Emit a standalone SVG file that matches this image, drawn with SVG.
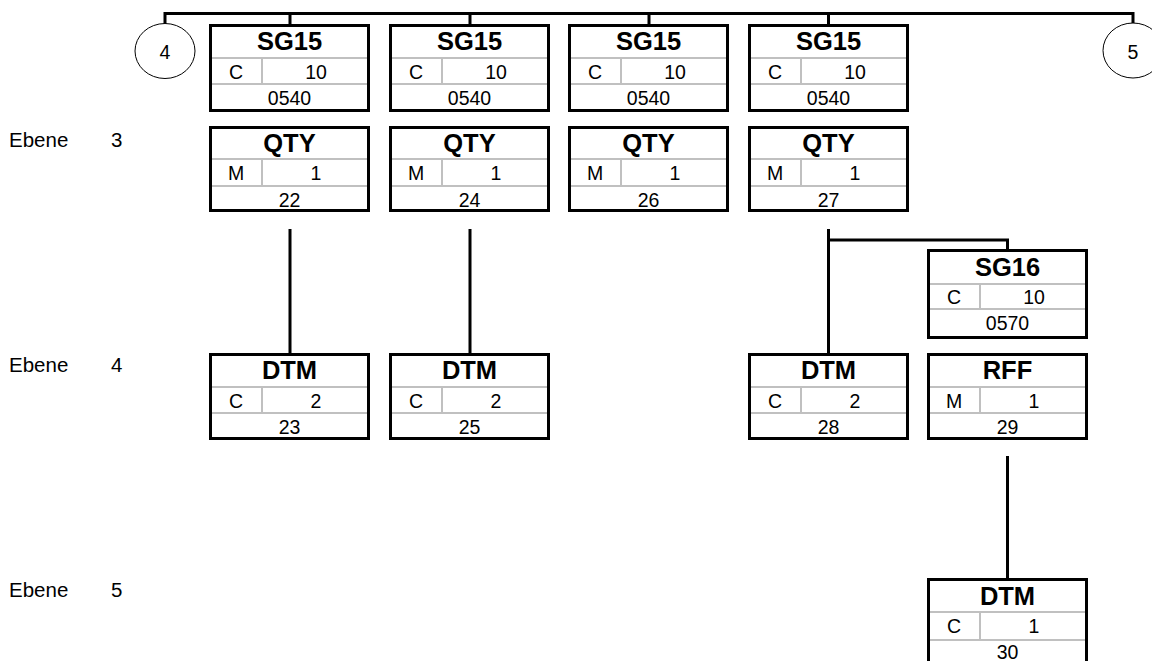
<svg xmlns="http://www.w3.org/2000/svg" width="1152" height="661" viewBox="0 0 1152 661">
<style>
.box{fill:#fff;stroke:#000;stroke-width:3}
.div{stroke:#c0c0c0;stroke-width:2;fill:none}
.hd{font-family:"Liberation Sans",Arial,sans-serif;font-weight:bold;font-size:25.5px;text-anchor:middle;fill:#000}
.tx{font-family:"Liberation Sans",Arial,sans-serif;font-size:19.5px;text-anchor:middle;fill:#000}
.lbl{font-family:"Liberation Sans",Arial,sans-serif;font-size:20.5px;fill:#000}
.con{stroke:#000;stroke-width:3;fill:none}
.circ{fill:#fff;stroke:#000;stroke-width:1}
</style>
<g id="connectors">
<path class="con" d="M165,13.5 H1133 M165,12 V24 M1133,12 V24 M290,12 V25 M470,12 V25 M649,12 V25 M828.5,12 V25"/>
<path class="con" d="M290,229 V354 M470,229 V354 M828.5,229 V354 M828.5,240 H1007.5 V250 M1007.5,456 V579"/>
</g>
<g id="levels">
<text class="lbl" x="9" y="147">Ebene</text><text class="lbl" x="111" y="147">3</text>
<text class="lbl" x="9" y="372">Ebene</text><text class="lbl" x="111" y="372">4</text>
<text class="lbl" x="9" y="597">Ebene</text><text class="lbl" x="111" y="597">5</text>
</g>
<g id="c4"><ellipse class="circ" cx="165" cy="51" rx="30" ry="27.5"/><text class="tx" x="165" y="59">4</text></g>
<g id="c5"><ellipse class="circ" cx="1133" cy="50.5" rx="30" ry="27.5"/><text class="tx" x="1133" y="59">5</text></g>

<g id="sg15a" transform="translate(209,24)"><rect class="box" x="1.5" y="1.5" width="158" height="85"/><path class="div" d="M3,34H158M3,60H158M53,34V60"/><text class="hd" x="80.5" y="26">SG15</text><text class="tx" x="27" y="55">C</text><text class="tx" x="107" y="55">10</text><text class="tx" x="80.5" y="81">0540</text></g>
<g id="sg15b" transform="translate(389,24)"><rect class="box" x="1.5" y="1.5" width="158" height="85"/><path class="div" d="M3,34H158M3,60H158M53,34V60"/><text class="hd" x="80.5" y="26">SG15</text><text class="tx" x="27" y="55">C</text><text class="tx" x="107" y="55">10</text><text class="tx" x="80.5" y="81">0540</text></g>
<g id="sg15c" transform="translate(568,24)"><rect class="box" x="1.5" y="1.5" width="158" height="85"/><path class="div" d="M3,34H158M3,60H158M53,34V60"/><text class="hd" x="80.5" y="26">SG15</text><text class="tx" x="27" y="55">C</text><text class="tx" x="107" y="55">10</text><text class="tx" x="80.5" y="81">0540</text></g>
<g id="sg15d" transform="translate(748,24)"><rect class="box" x="1.5" y="1.5" width="158" height="85"/><path class="div" d="M3,34H158M3,60H158M53,34V60"/><text class="hd" x="80.5" y="26">SG15</text><text class="tx" x="27" y="55">C</text><text class="tx" x="107" y="55">10</text><text class="tx" x="80.5" y="81">0540</text></g>

<g id="qty22" transform="translate(209,126)"><rect class="box" x="1.5" y="1.5" width="158" height="83"/><path class="div" d="M3,33H158M3,60H158M53,33V60"/><text class="hd" x="80.5" y="26">QTY</text><text class="tx" x="27" y="54">M</text><text class="tx" x="107" y="54">1</text><text class="tx" x="80.5" y="81">22</text></g>
<g id="qty24" transform="translate(389,126)"><rect class="box" x="1.5" y="1.5" width="158" height="83"/><path class="div" d="M3,33H158M3,60H158M53,33V60"/><text class="hd" x="80.5" y="26">QTY</text><text class="tx" x="27" y="54">M</text><text class="tx" x="107" y="54">1</text><text class="tx" x="80.5" y="81">24</text></g>
<g id="qty26" transform="translate(568,126)"><rect class="box" x="1.5" y="1.5" width="158" height="83"/><path class="div" d="M3,33H158M3,60H158M53,33V60"/><text class="hd" x="80.5" y="26">QTY</text><text class="tx" x="27" y="54">M</text><text class="tx" x="107" y="54">1</text><text class="tx" x="80.5" y="81">26</text></g>
<g id="qty27" transform="translate(748,126)"><rect class="box" x="1.5" y="1.5" width="158" height="83"/><path class="div" d="M3,33H158M3,60H158M53,33V60"/><text class="hd" x="80.5" y="26">QTY</text><text class="tx" x="27" y="54">M</text><text class="tx" x="107" y="54">1</text><text class="tx" x="80.5" y="81">27</text></g>

<g id="sg16" transform="translate(927,249)"><rect class="box" x="1.5" y="1.5" width="158" height="87"/><path class="div" d="M3,35H158M3,60H158M53,35V60"/><text class="hd" x="80.5" y="27">SG16</text><text class="tx" x="27" y="55">C</text><text class="tx" x="107" y="55">10</text><text class="tx" x="80.5" y="81">0570</text></g>

<g id="dtm23" transform="translate(209,353)"><rect class="box" x="1.5" y="1.5" width="158" height="84"/><path class="div" d="M3,34H158M3,60H158M53,34V60"/><text class="hd" x="80.5" y="25.5">DTM</text><text class="tx" x="27" y="55">C</text><text class="tx" x="107" y="55">2</text><text class="tx" x="80.5" y="80.5">23</text></g>
<g id="dtm25" transform="translate(389,353)"><rect class="box" x="1.5" y="1.5" width="158" height="84"/><path class="div" d="M3,34H158M3,60H158M53,34V60"/><text class="hd" x="80.5" y="25.5">DTM</text><text class="tx" x="27" y="55">C</text><text class="tx" x="107" y="55">2</text><text class="tx" x="80.5" y="80.5">25</text></g>
<g id="dtm28" transform="translate(748,353)"><rect class="box" x="1.5" y="1.5" width="158" height="84"/><path class="div" d="M3,34H158M3,60H158M53,34V60"/><text class="hd" x="80.5" y="25.5">DTM</text><text class="tx" x="27" y="55">C</text><text class="tx" x="107" y="55">2</text><text class="tx" x="80.5" y="80.5">28</text></g>
<g id="rff29" transform="translate(927,353)"><rect class="box" x="1.5" y="1.5" width="158" height="84"/><path class="div" d="M3,34H158M3,60H158M53,34V60"/><text class="hd" x="80.5" y="25.5">RFF</text><text class="tx" x="27" y="55">M</text><text class="tx" x="107" y="55">1</text><text class="tx" x="80.5" y="80.5">29</text></g>

<g id="dtm30" transform="translate(927,578)"><rect class="box" x="1.5" y="1.5" width="158" height="85"/><path class="div" d="M3,34H158M3,62H158M53,34V62"/><text class="hd" x="80.5" y="27">DTM</text><text class="tx" x="27" y="55">C</text><text class="tx" x="107" y="55">1</text><text class="tx" x="80.5" y="81">30</text></g>
</svg>
